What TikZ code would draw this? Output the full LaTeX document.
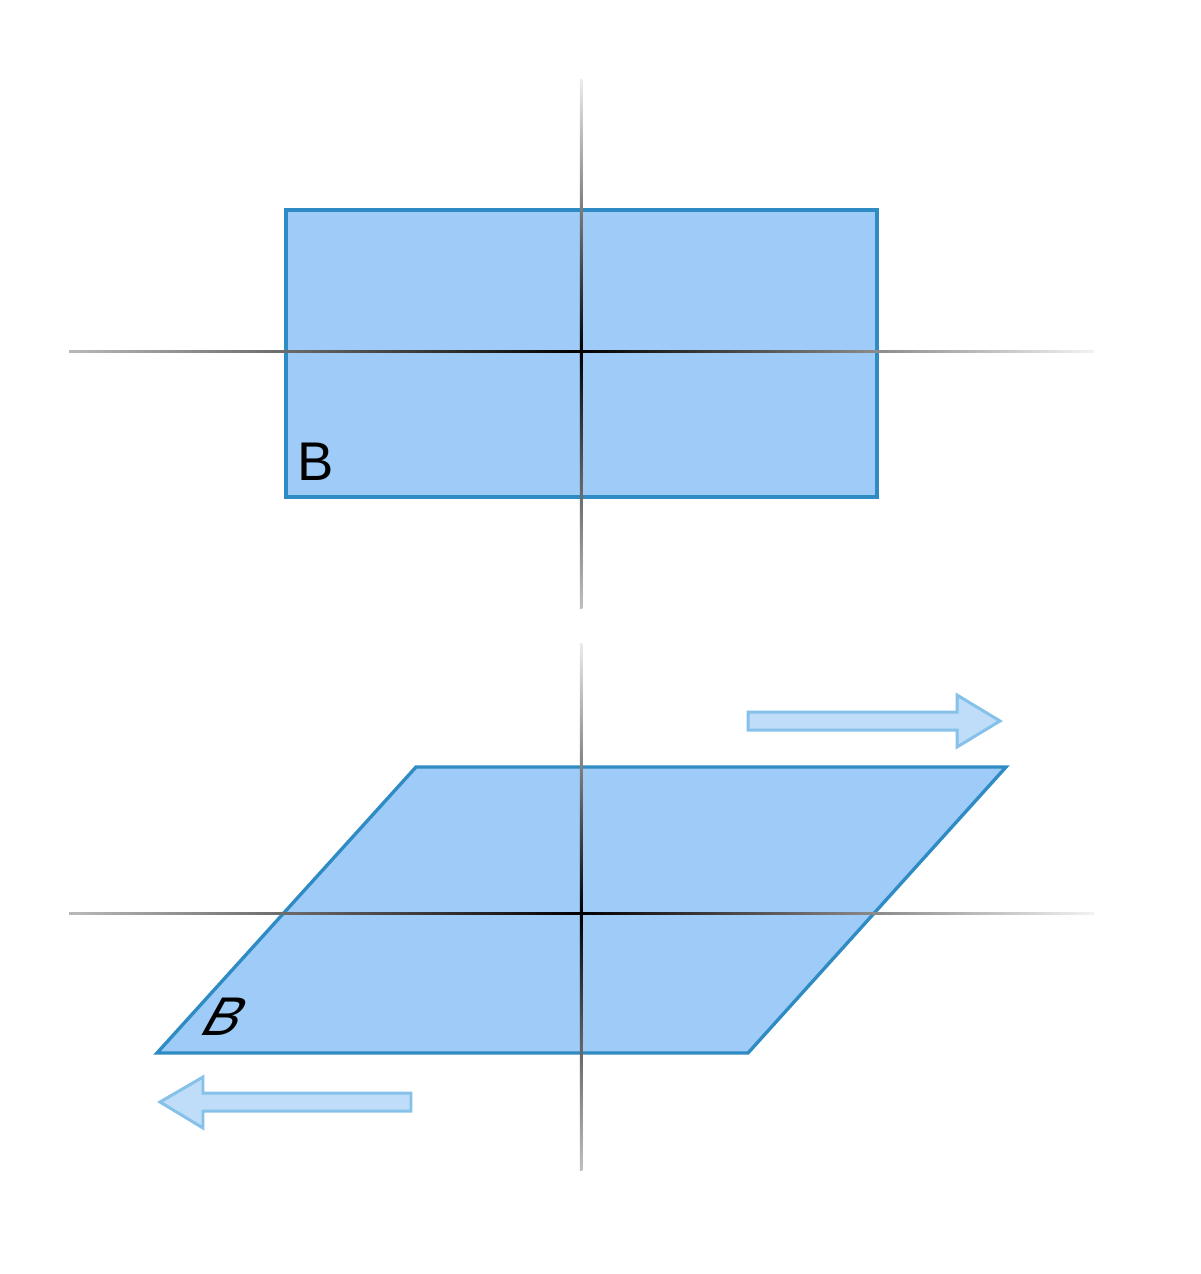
\documentclass[tikz,border=0pt]{standalone}
\usepackage{fontspec}
\setmainfont{Liberation Sans}
\newfontfamily\slantsans[FakeSlant=0.55]{Liberation Sans}
\definecolor{boxfill}{HTML}{9ECBF7}
\definecolor{boxline}{HTML}{2E8BC4}
\definecolor{arrfill}{HTML}{BFDDF8}
\definecolor{arrline}{HTML}{85C1E9}
\tikzset{
  plate/.style={fill=boxfill,draw=boxline,line width=1.9pt,line join=miter},
  shift arrow/.style={fill=arrfill,draw=arrline,line width=1.7pt,line join=miter},
  letter/.style={font=\fontsize{31}{36}\selectfont,inner sep=0pt}
}
\begin{document}
\begin{tikzpicture}[x=0.02cm,y=-0.02cm]
\useasboundingbox (0,0) rectangle (1200,1274);
% upper picture
\draw[plate] (286,210) rectangle (877,497);
\shade[left color=gray!55,right color=black] (69,350) rectangle (581,352.5);
\shade[left color=black,right color=gray!10] (581,350) rectangle (1094,352.5);
\shade[top color=gray!15,bottom color=black] (579.8,80) rectangle (582.3,351);
\shade[top color=black,bottom color=gray!50] (579.8,351) rectangle (582.3,608);
\node[letter] at (316,462) {B};
% lower picture
\draw[plate] (416,767) -- (1006,767) -- (748,1053) -- (157,1053) -- cycle;
\shade[left color=gray!55,right color=black] (69,912) rectangle (581,914.5);
\shade[left color=black,right color=gray!10] (581,912) rectangle (1094,914.5);
\shade[top color=gray!15,bottom color=black] (579.8,643) rectangle (582.3,913);
\shade[top color=black,bottom color=gray!50] (579.8,913) rectangle (582.3,1170);
\node[letter] at (216,1017) {\slantsans B};
% shear arrows
\draw[shift arrow] (748,712) -- (957,712) -- (957,695) -- (1000,721) -- (957,747) -- (957,730) -- (748,730) -- cycle;
\draw[shift arrow] (411,1093) -- (203,1093) -- (203,1077) -- (160,1102) -- (203,1128) -- (203,1111) -- (411,1111) -- cycle;
\end{tikzpicture}
\end{document}
